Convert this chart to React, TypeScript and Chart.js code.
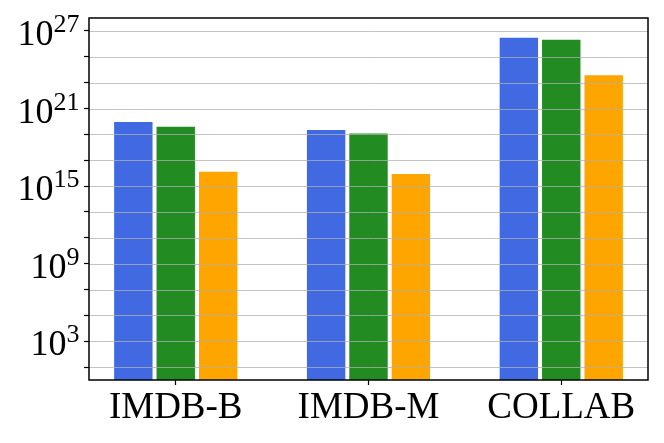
import React, { useEffect, useRef } from "react";
import { Chart, registerables } from "chart.js";

Chart.register(...registerables);

const categories = ["IMDB-B", "IMDB-M", "COLLAB"];
const seriesBlue = [1.3e20, 3.1e19, 4.2e26];
const seriesGreen = [5.6e19, 1.7e19, 3.0e26];
const seriesOrange = [1.85e16, 1.2e16, 5.3e23];
const seriesColors = ["#4169E1", "#228B22", "#FFA500"];
const yGridExponents = [1, 3, 5, 7, 9, 11, 13, 15, 17, 19, 21, 23, 25, 27];
const yLabelExponents = [3, 9, 15, 21, 27];
const yMinExp = 0;
const yMaxExp = 28;

const FONT = "'Liberation Serif', 'DejaVu Serif', serif";

export default function App() {
  const ref = useRef<HTMLCanvasElement | null>(null);

  useEffect(() => {
    if (!ref.current) return;
    const overlay = {
      id: "overlay",
      afterDatasetsDraw(chart: any) {
        const { ctx, chartArea, scales } = chart;
        const y = scales.y;
        ctx.save();
        ctx.strokeStyle = "rgba(176,176,176,0.75)";
        ctx.lineWidth = 1;
        for (const e of yGridExponents) {
          const py = Math.round(y.getPixelForValue(Math.pow(10, e))) + 0.5;
          ctx.beginPath();
          ctx.moveTo(chartArea.left, py);
          ctx.lineTo(chartArea.right, py);
          ctx.stroke();
        }
        ctx.strokeStyle = "#000";
        ctx.lineWidth = 1.5;
        ctx.strokeRect(chartArea.left, chartArea.top, chartArea.right - chartArea.left, chartArea.bottom - chartArea.top);
        ctx.fillStyle = "#000";
        ctx.textAlign = "right";
        ctx.textBaseline = "alphabetic";
        const rightX = 79.5;
        for (const e of yLabelExponents) {
          const py = y.getPixelForValue(Math.pow(10, e));
          const exp = String(e);
          ctx.font = `26px ${FONT}`;
          const ew = ctx.measureText(exp).width;
          ctx.fillText(exp, rightX, py + 1);
          ctx.font = `36px ${FONT}`;
          ctx.fillText("10", rightX - ew, py + 14);
        }
        ctx.restore();
      },
    };

    const mk = (data: number[], i: number) => ({
      label: `Series ${i + 1}`,
      data: data.map((v, k) => ({ x: k, y: v })),
      backgroundColor: seriesColors[i],
      borderColor: "rgba(255,255,255,0.85)",
      borderWidth: 2,
      categoryPercentage: 0.66,
      barPercentage: 1,
    });

    const chart = new Chart(ref.current, {
      type: "bar",
      data: {
        datasets: [mk(seriesBlue, 0), mk(seriesGreen, 1), mk(seriesOrange, 2)],
      },
      options: {
        animation: false,
        responsive: false,
        devicePixelRatio: 1,
        layout: { padding: { left: 0, top: 18, right: 16, bottom: 0 } },
        plugins: { legend: { display: false }, tooltip: { enabled: false } },
        scales: {
          x: {
            type: "linear",
            min: -0.45,
            max: 2.45,
            offset: false,
            afterBuildTicks: (scale: any) => {
              scale.ticks = categories.map((_, i) => ({ value: i }));
            },
            afterFit: (scale: any) => {
              scale.height = 63;
            },
            ticks: {
              autoSkip: false,
              maxRotation: 0,
              minRotation: 0,
              padding: 1,
              color: "#000",
              font: { family: FONT, size: 37 },
              callback: (v: any) => categories[Math.round(Number(v))] ?? "",
            },
            grid: {
              offset: false,
              drawOnChartArea: false,
              color: "rgba(0,0,0,0)",
              tickColor: "#000",
              tickLength: 5,
              tickWidth: 1.2,
            },
            border: { display: false },
          },
          y: {
            type: "logarithmic",
            min: Math.pow(10, yMinExp),
            max: Math.pow(10, yMaxExp),
            afterBuildTicks: (scale: any) => {
              scale.ticks = yGridExponents.map((e) => ({ value: Math.pow(10, e) }));
            },
            afterFit: (scale: any) => {
              scale.width = 89;
            },
            ticks: {
              color: "rgba(0,0,0,0)",
              callback: () => "",
            },
            grid: {
              drawOnChartArea: false,
              color: "rgba(0,0,0,0)",
              tickColor: "#000",
              tickLength: 5,
              tickWidth: 1.2,
            },
            border: { display: false },
          },
        },
      },
      plugins: [overlay],
    } as any);
    return () => chart.destroy();
  }, []);

  return (
    <canvas
      ref={ref}
      width={664}
      height={443}
      style={{ position: "fixed", left: 0, top: 0, width: 664, height: 443, display: "block" }}
    />
  );
}
